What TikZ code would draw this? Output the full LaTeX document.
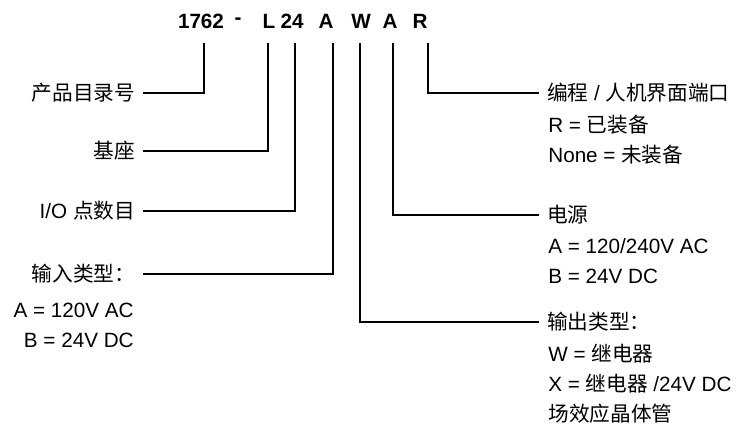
\documentclass[tikz,border=0pt]{standalone}
\usepackage{fontspec}
\setmainfont{Liberation Sans}
\newfontfamily\cjk{Noto Sans CJK SC}
\usepackage{tikz}

\begin{document}
\begin{tikzpicture}[x=0.75pt, y=-0.75pt, line width=2pt,
  code/.style={font=\fontsize{15.5}{18}\selectfont\bfseries, inner sep=0},
  lab/.style={font=\fontsize{15.5}{22.5}\selectfont, inner sep=0, outer xsep=6pt},
  opt/.style={font=\fontsize{15.5}{22.5}\selectfont, inner sep=0}]
\useasboundingbox (0,0) rectangle (742,430);
\node[code] (n1762) at (201,21) {1762};
\node[code] (dash) at (238,21) {-};
\node[code] (nL) at (269,21) {L};
\node[code] (n24) at (292,21) {24};
\node[code] (nA) at (326,21) {A};
\node[code] (nW) at (361,21) {W};
\node[code] (nB) at (390,21) {A};
\node[code] (nR) at (420,21) {R};
\coordinate (t1762) at (204,43);
\coordinate (tL) at (268,43);
\coordinate (t24) at (295,43);
\coordinate (tA) at (333,43);
\coordinate (tW) at (360,43);
\coordinate (tB) at (393,43);
\coordinate (tR) at (428,43);
\node[lab, anchor=east] (cat) at (143,93) {\cjk 产品目录号};
\node[lab, anchor=east] (base) at (143,151) {\cjk 基座};
\node[lab, anchor=east] (io) at (143,211) {I/O {\cjk 点数目}};
\node[lab, anchor=east] (inType) at (143,274) {\cjk 输入类型：};
\node[opt, anchor=east, align=right] (inOpt) at (135,325) {A = 120V AC\\B = 24V DC};
\node[lab, anchor=west] (port) at (539,93) {{\cjk 编程} / {\cjk 人机界面端口}};
\node[opt, anchor=west, align=left] (portOpt) at (547,140) {R = {\cjk 已装备}\\None = {\cjk 未装备}};
\node[lab, anchor=west] (power) at (539,215) {\cjk 电源};
\node[opt, anchor=west, align=left] (powerOpt) at (547,261) {A = 120/240V AC\\B = 24V DC};
\node[lab, anchor=west] (outType) at (539,322) {\cjk 输出类型：};
\node[opt, anchor=west, align=left] (outOpt) at (547,384) {W = {\cjk 继电器}\\X = {\cjk 继电器} /24V DC\\{\cjk 场效应晶体管}};
\draw (t1762) |- (cat.east);
\draw (tL) |- (base.east);
\draw (t24) |- (io.east);
\draw (tA) |- (inType.east);
\draw (tW) |- (outType.west);
\draw (tB) |- (power.west);
\draw (tR) |- (port.west);
\end{tikzpicture}
\end{document}
